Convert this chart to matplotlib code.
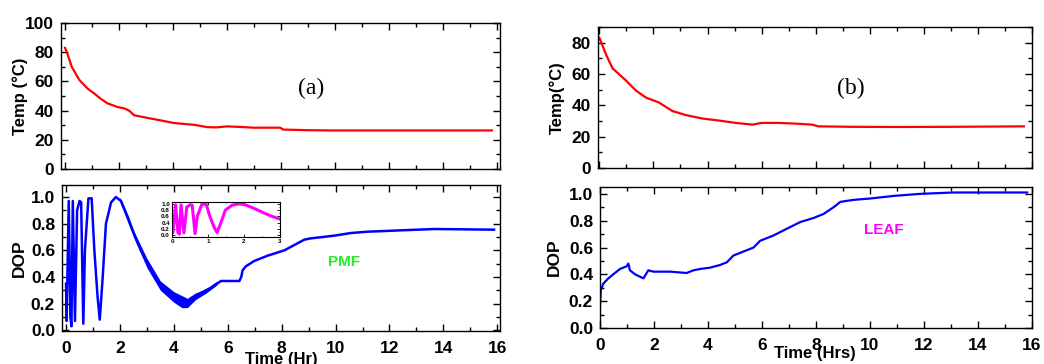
import matplotlib.pyplot as plt
from matplotlib.ticker import MultipleLocator

# Temperature, panel (a)
temp_a_t = [0.0, 0.05, 0.25, 0.53, 0.84, 1.1, 1.33, 1.57, 1.94, 2.2, 2.37, 2.56, 3.05, 3.54, 4.03,
            4.77, 5.26, 5.6, 5.99, 6.5, 6.98, 7.5, 7.96, 8.08, 9.0, 9.9, 12.0, 14.0, 15.8]
temp_a_v = [83.0, 81.0, 70.0, 61.0, 55.0, 51.5, 48.0, 45.0, 42.5, 41.5, 40.0, 36.8, 35.0, 33.3, 31.5,
            30.3, 28.7, 28.5, 29.2, 28.8, 28.3, 28.3, 28.3, 27.0, 26.6, 26.4, 26.4, 26.4, 26.4]

# Temperature, panel (b)
temp_b_t = [0.0, 0.25, 0.49, 0.98, 1.35, 1.72, 2.21, 2.46, 2.7, 3.2, 3.81, 4.43, 5.04, 5.66,
            6.0, 6.64, 7.3, 7.87, 8.1, 9.35, 11.0, 13.0, 15.7]
temp_b_v = [83.2, 72.4, 63.6, 56.0, 49.5, 45.0, 41.8, 39.0, 36.4, 33.8, 31.6, 30.3, 28.8, 27.7,
            28.8, 28.8, 28.3, 27.7, 26.6, 26.3, 26.2, 26.3, 26.6]

# DOP, panel (a) - PMF
dop_a_t = [0.0, 0.02, 0.1, 0.16, 0.2, 0.25, 0.33, 0.41, 0.5, 0.56, 0.64, 0.7, 0.83, 0.95,
           1.05, 1.17, 1.25, 1.36, 1.48, 1.67, 1.85, 2.04, 2.29, 2.53, 2.78, 3.03, 3.28,
           3.52, 3.77, 4.02, 4.26, 4.45, 4.64, 5.0, 5.38, 5.75, 6.12, 6.43, 6.5, 6.55,
           6.67, 6.98, 7.48, 8.1, 8.47, 8.84, 9.09, 9.95, 10.57, 11.19, 12.42, 13.66, 15.88]
dop_a_v = [0.35, 0.07, 0.97, 0.1, 0.03, 0.97, 0.07, 0.9, 0.97, 0.96, 0.05, 0.6, 0.99, 0.99,
           0.6, 0.25, 0.08, 0.4, 0.8, 0.96, 1.0, 0.97, 0.85, 0.72, 0.6, 0.5, 0.4,
           0.33, 0.28, 0.24, 0.2, 0.19, 0.24, 0.28, 0.32, 0.37, 0.37, 0.37, 0.4, 0.45,
           0.48, 0.52, 0.56, 0.6, 0.64, 0.68, 0.69, 0.71, 0.73, 0.74, 0.75, 0.76, 0.755]

# noisy band of the PMF trace
band_t = [2.0, 2.5, 3.0, 3.5, 4.0, 4.3, 4.5, 4.8, 5.2, 5.6]
band_lo = [0.96, 0.70, 0.47, 0.30, 0.21, 0.17, 0.17, 0.23, 0.28, 0.34]
band_hi = [1.0, 0.75, 0.54, 0.37, 0.29, 0.26, 0.24, 0.28, 0.31, 0.37]

# DOP, panel (b) - LEAF
dop_b_t = [0.0, 0.03, 0.12, 0.31, 0.49, 0.74, 0.99, 1.05, 1.11, 1.3, 1.61, 1.79, 1.98, 2.6,
           3.21, 3.46, 3.71, 4.08, 4.45, 4.7, 4.94, 5.19, 5.69, 5.93, 6.43, 6.92, 7.42,
           7.91, 8.28, 8.65, 8.9, 9.39, 10.0, 10.9, 11.87, 13.1, 15.82]
dop_b_v = [0.16, 0.28, 0.33, 0.37, 0.40, 0.44, 0.46, 0.48, 0.43, 0.40, 0.37, 0.43, 0.42, 0.42,
           0.41, 0.43, 0.44, 0.45, 0.47, 0.49, 0.54, 0.56, 0.60, 0.65, 0.69, 0.74, 0.79,
           0.82, 0.85, 0.90, 0.94, 0.955, 0.965, 0.985, 1.0, 1.01, 1.01]

plt.rcParams['font.family'] = ['Liberation Sans', 'DejaVu Sans']
plt.rcParams['font.weight'] = 'bold'

fig = plt.figure(figsize=(10.44, 3.64), dpi=100)

ax1 = fig.add_axes([0.0584, 0.5357, 0.4205, 0.401])
ax2 = fig.add_axes([0.0594, 0.0907, 0.4195, 0.401])
ax3 = fig.add_axes([0.5728, 0.5385, 0.4157, 0.387])
ax4 = fig.add_axes([0.5747, 0.0989, 0.4138, 0.387])


def style(ax, ymaj, ymin, labels=True):
    ax.xaxis.set_major_locator(MultipleLocator(2))
    ax.xaxis.set_minor_locator(MultipleLocator(1))
    ax.yaxis.set_major_locator(MultipleLocator(ymaj))
    ax.yaxis.set_minor_locator(MultipleLocator(ymin))
    ax.tick_params(which='both', direction='in', top=True, right=True, labelsize=12.5, pad=5)
    ax.tick_params(axis='x', pad=7)
    ax.tick_params(which='major', length=5, width=1)
    ax.tick_params(which='minor', length=3, width=1)
    if not labels:
        ax.tick_params(labelbottom=False)
    for lab in ax.get_xticklabels() + ax.get_yticklabels():
        lab.set_fontweight('bold')
    for s in ax.spines.values():
        s.set_linewidth(1)


# panel (a)
ax1.plot(temp_a_t, temp_a_v, color='red', lw=1.6)
ax1.set_xlim(-0.15, 16.1)
ax1.set_ylim(0, 100)
style(ax1, 20, 10, labels=False)
ax1.set_ylabel('Temp (°C)', fontsize=12, fontweight='bold', labelpad=-2)
ax1.text(9.1, 55, '(a)', family='Liberation Serif', fontsize=17, fontweight='normal',
         ha='center', va='center')

ax2.fill_between(band_t, band_lo, band_hi, color='blue', lw=0)
ax2.plot(dop_a_t, dop_a_v, color='blue', lw=1.8)
ax2.set_xlim(-0.15, 16.1)
ax2.set_ylim(-0.005, 1.09)
style(ax2, 0.2, 0.1)
ax2.set_ylabel('DOP', fontsize=12.5, fontweight='bold', labelpad=3)
ax2.set_xlabel('Time (Hr)', fontsize=12, fontweight='bold')
ax2.xaxis.set_label_coords(0.5, -0.145)
ax2.text(10.3, 0.51, 'PMF', color='#22ee22', fontsize=11, fontweight='bold',
         ha='center', va='center')

# inset
axi = fig.add_axes([0.1648, 0.349, 0.1034, 0.096])
axi.plot(dop_a_t, dop_a_v, color='magenta', lw=2.2)
axi.set_xlim(0, 3)
axi.set_ylim(-0.06, 1.06)
axi.xaxis.set_major_locator(MultipleLocator(1))
axi.yaxis.set_major_locator(MultipleLocator(0.2))
axi.yaxis.set_minor_locator(MultipleLocator(0.1))
axi.xaxis.set_minor_locator(MultipleLocator(0.5))
axi.tick_params(which='both', direction='in', top=True, right=True, labelsize=4.5, pad=1.5,
                length=2, width=0.6)
axi.tick_params(which='minor', length=1)
for s in axi.spines.values():
    s.set_linewidth(0.8)

# panel (b)
ax3.plot(temp_b_t, temp_b_v, color='red', lw=1.6)
ax3.set_xlim(-0.05, 16.0)
ax3.set_ylim(0, 90)
style(ax3, 20, 10, labels=False)
ax3.set_ylabel('Temp(°C)', fontsize=12, fontweight='bold', labelpad=5)
ax3.text(9.3, 51, '(b)', family='Liberation Serif', fontsize=17, fontweight='normal',
         ha='center', va='center')

ax4.plot(dop_b_t, dop_b_v, color='blue', lw=1.6)
ax4.set_xlim(0, 16.0)
ax4.set_ylim(0, 1.05)
style(ax4, 0.2, 0.1)
ax4.set_ylabel('DOP', fontsize=12.5, fontweight='bold', labelpad=5)
ax4.set_xlabel('Time (Hrs)', fontsize=12, fontweight='bold')
ax4.xaxis.set_label_coords(0.497, -0.128)
ax4.text(10.5, 0.73, 'LEAF', color='magenta', fontsize=11, fontweight='bold',
         ha='center', va='center')

fig.savefig('out.png', dpi=100)
